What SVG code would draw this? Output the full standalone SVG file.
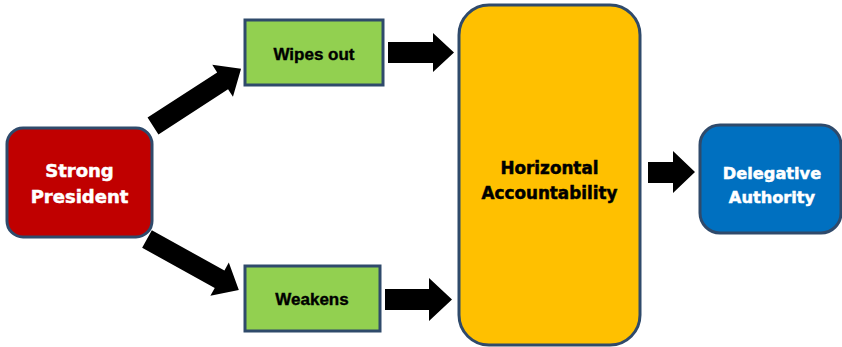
<svg xmlns="http://www.w3.org/2000/svg" width="842" height="347" viewBox="0 0 842 347">
<style>
.box{stroke:#2f4a6b;stroke-width:3}
.t{font-family:"DejaVu Sans",Verdana,sans-serif;font-weight:bold;text-anchor:middle;stroke-width:0.5}
.ta{font-family:"Liberation Sans",Arial,sans-serif;font-weight:bold;text-anchor:middle;font-size:17px;stroke:#000;stroke-width:0.4}
.w{fill:#fff;stroke:#fff}
.k{fill:#000;stroke:#000}
.arr{fill:#000}
</style>
<rect width="842" height="347" fill="#fff"/>
<g id="connectors">
<polygon class="arr" transform="translate(153,126) rotate(-33)" points="0,-10 83,-10 83,-19 105,0 83,19 83,10 0,10"/>
<polygon class="arr" transform="translate(147,239) rotate(29)" points="0,-10 83,-10 83,-19 105,0 83,19 83,10 0,10"/>
<polygon class="arr" points="388,42 433,42 433,33 454,52.5 433,72 433,63 388,63"/>
<polygon class="arr" points="385,289 429,289 429,278 452,299.5 429,321 429,310 385,310"/>
<polygon class="arr" points="648,162 673,162 673,151 695,172 673,193 673,183 648,183"/>
</g>
<g id="strong-president">
<rect class="box" x="7" y="128" width="145" height="109" rx="16" fill="#c00000"/>
<text class="t w" x="79.5" y="177" font-size="18">Strong</text>
<text class="t w" x="79.5" y="203" font-size="18">President</text>
</g>
<g id="wipes-out">
<rect class="box" x="245" y="20" width="138" height="65" fill="#92d050"/>
<text class="ta" x="314" y="60" fill="#000">Wipes out</text>
</g>
<g id="weakens">
<rect class="box" x="245" y="266" width="135" height="65" fill="#92d050"/>
<text class="ta" x="312" y="305" fill="#000">Weakens</text>
</g>
<g id="horizontal-accountability">
<rect class="box" x="459" y="5" width="181" height="340" rx="30" fill="#ffc000"/>
<text class="t k" x="549.5" y="174" font-size="16.8">Horizontal</text>
<text class="t k" x="549.5" y="199" font-size="16.8">Accountability</text>
</g>
<g id="delegative-authority">
<rect class="box" x="700" y="125" width="141" height="108" rx="20" fill="#0070c0"/>
<text class="t w" x="772" y="179" font-size="16.2">Delegative</text>
<text class="t w" x="772" y="203" font-size="16.2">Authority</text>
</g>
</svg>
